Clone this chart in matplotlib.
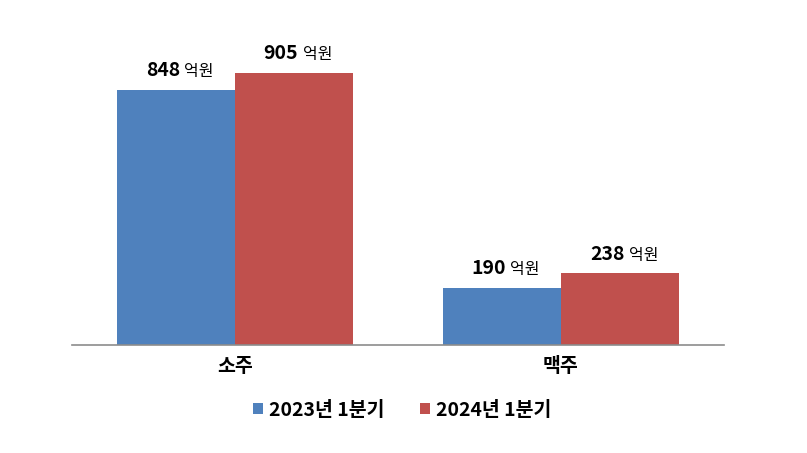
import matplotlib
matplotlib.use("Agg")
import matplotlib.pyplot as plt
import numpy as np

plt.rcParams['font.family'] = ['Noto Sans CJK KR', 'DejaVu Sans']

categories = ["소주", "맥주"]
series_names = ["2023년 1분기", "2024년 1분기"]
values_2023 = [848, 190]
values_2024 = [905, 238]
unit = "억원"
colors = ["#4F81BD", "#C0504D"]

fig = plt.figure(figsize=(8.07, 4.53), dpi=100)
ax = fig.add_axes([72/807, 1-345/453, (724-72)/807, (345-44.3)/453])

x = np.arange(len(categories))
w = 0.363
b1 = ax.bar(x - w/2, values_2023, w, color=colors[0], label=series_names[0])
b2 = ax.bar(x + w/2, values_2024, w, color=colors[1], label=series_names[1])

ax.set_xlim(-0.5, 1.5)
ax.set_ylim(0, 1000)
for s in ["top", "right", "left"]:
    ax.spines[s].set_visible(False)
ax.spines["bottom"].set_color("#8C8C8C")
ax.spines["bottom"].set_linewidth(1.2)
ax.set_yticks([])
ax.set_xticks(x)
ax.set_xticklabels(categories, fontsize=14, fontweight='bold')
ax.tick_params(axis='x', length=0, pad=9)

for bars, vals in ((b1, values_2023), (b2, values_2024)):
    for rect, v in zip(bars, vals):
        cx = rect.get_x() + rect.get_width()/2
        top = rect.get_height()
        ax.annotate(f"{v}", (cx, top), xytext=(3, 10), textcoords="offset points",
                    ha="right", va="baseline", fontsize=14, fontweight="bold")
        ax.annotate(unit, (cx, top), xytext=(6, 10), textcoords="offset points",
                    ha="left", va="baseline", fontsize=11.5)

leg = fig.legend(handles=[b1, b2], labels=series_names, loc="center",
                 bbox_to_anchor=(402/807, 1-410/453), ncol=2, frameon=False,
                 prop={'weight': 'bold', 'size': 14}, handlelength=0.55,
                 handleheight=0.55, handletextpad=0.3, columnspacing=1.8)

fig.savefig("out.png", dpi=100)
